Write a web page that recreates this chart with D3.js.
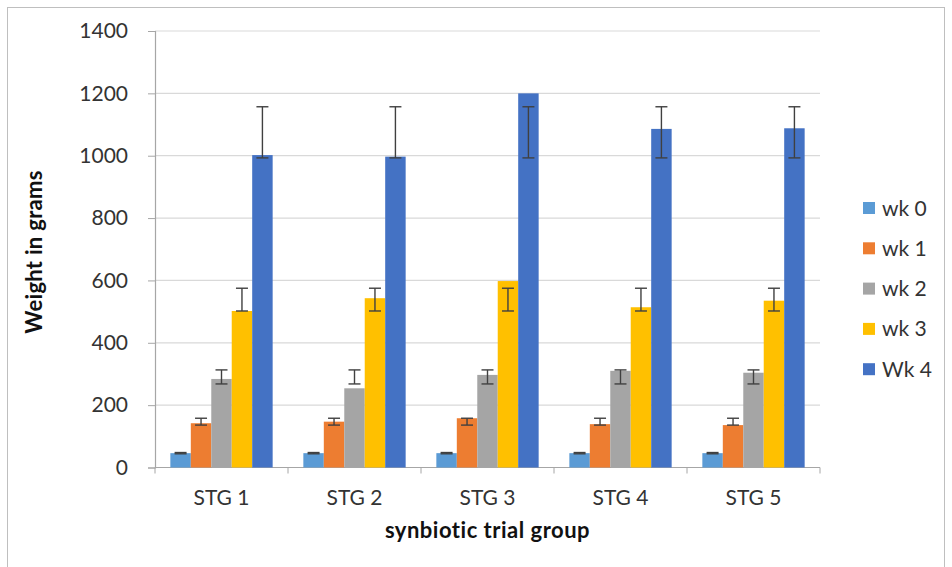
<!DOCTYPE html>
<html><head><meta charset="utf-8">
<script src="https://cdn.jsdelivr.net/npm/d3@7"></script>
<style>body{margin:0;background:#fff;}svg{display:block;}</style>
</head><body>
<svg id="chart" width="952" height="567"></svg>
<script>
const categories = ["STG 1","STG 2","STG 3","STG 4","STG 5"];
const seriesNames = ["wk 0","wk 1","wk 2","wk 3","Wk 4"];
const seriesColors = ["#5B9BD5","#ED7D31","#A5A5A5","#FFC000","#4472C4"];
const wk0 = [46, 46, 46, 46, 46];
const wk1 = [142, 147, 158, 139, 136];
const wk2 = [284, 254, 297, 310, 304];
const wk3 = [502, 543, 598, 514, 535];
const wk4 = [1002, 997, 1200, 1086, 1088];
// error bar low / high ends per series (same in every group in the picture)
const errLow  = [44, 136, 268, 502, 993];
const errHigh = [48, 158, 313, 575, 1157];
const yTicks = [0,200,400,600,800,1000,1200,1400];

const values = [wk0, wk1, wk2, wk3, wk4];
const FONT = "Lato, 'Open Sans', sans-serif";
const svg = d3.select("#chart");
const x0 = 155, x1 = 820, yTop = 31, yBot = 467.5;

// frame
svg.append("rect").attr("x",7.5).attr("y",7.5).attr("width",937).attr("height",570)
  .attr("fill","none").attr("stroke","#bfbfbf").attr("stroke-width",1);

const x = d3.scaleBand().domain(categories).range([x0,x1]).paddingInner(0).paddingOuter(0);
const y = d3.scaleLinear().domain([0,1400]).range([yBot,yTop]);
const bw = x.bandwidth()/6.5;
const xs = d3.scaleBand().domain(seriesNames).range([0.75*bw, x.bandwidth()-0.75*bw]).padding(0);

// gridlines
svg.append("g").selectAll("line").data(yTicks.filter(d=>d>0)).join("line")
  .attr("x1",x0).attr("x2",x1).attr("y1",d=>y(d)).attr("y2",d=>y(d))
  .attr("stroke","#d9d9d9").attr("stroke-width",1.2);

// y axis
const yAxis = svg.append("g").attr("transform",`translate(${x0},0)`)
  .call(d3.axisLeft(y).tickValues(yTicks).tickSize(7).tickPadding(20).tickFormat(d3.format("d")));
yAxis.select(".domain").attr("stroke","#a6a6a6").attr("stroke-width",1.2);
yAxis.selectAll(".tick line").attr("stroke","#a6a6a6");
yAxis.selectAll("text").attr("font-family",FONT).attr("font-size",21)
  .attr("fill","#333");

// x axis
const xAxisG = svg.append("g").attr("transform",`translate(0,${yBot})`);
xAxisG.append("line").attr("x1",x0).attr("x2",x1).attr("stroke","#a6a6a6").attr("stroke-width",1.2);
const bounds = categories.map(c=>x(c)).concat([x1]);
xAxisG.selectAll("line.tk").data(bounds).join("line").attr("class","tk")
  .attr("x1",d=>d).attr("x2",d=>d).attr("y1",0).attr("y2",6).attr("stroke","#a6a6a6");
xAxisG.selectAll("text").data(categories).join("text")
  .attr("x",d=>x(d)+x.bandwidth()/2).attr("y",37).attr("text-anchor","middle")
  .attr("font-family",FONT).attr("font-size",21).attr("fill","#333")
  .text(d=>d);

// bars
const data = [];
categories.forEach((c,ci)=>seriesNames.forEach((s,si)=>data.push({c,s,si,v:values[si][ci]})));
svg.append("g").selectAll("rect").data(data).join("rect")
  .attr("x",d=>x(d.c)+xs(d.s)).attr("width",xs.bandwidth())
  .attr("y",d=>y(d.v)).attr("height",d=>yBot-y(d.v))
  .attr("fill",d=>seriesColors[d.si]);

// error bars
const eg = svg.append("g").attr("stroke","#404040").attr("stroke-width",1.4);
data.forEach(d=>{
  const cx = x(d.c)+xs(d.s)+xs.bandwidth()/2;
  const lo = y(errLow[d.si]), hi = y(errHigh[d.si]);
  eg.append("line").attr("x1",cx).attr("x2",cx).attr("y1",lo).attr("y2",hi);
  eg.append("line").attr("x1",cx-6).attr("x2",cx+6).attr("y1",lo).attr("y2",lo);
  eg.append("line").attr("x1",cx-6).attr("x2",cx+6).attr("y1",hi).attr("y2",hi);
});

// axis titles
svg.append("text").attr("x",(x0+x1)/2).attr("y",538).attr("text-anchor","middle")
  .attr("font-family",FONT).attr("font-weight","bold").attr("font-size",22)
  .attr("letter-spacing",0.5).attr("fill","#111").text("synbiotic trial group");
svg.append("text").attr("transform","translate(42,252) rotate(-90)").attr("text-anchor","middle")
  .attr("font-family",FONT).attr("font-weight","bold").attr("font-size",22)
  .attr("letter-spacing",0.3).attr("fill","#111").text("Weight in grams");

// legend
const lg = svg.append("g").selectAll("g").data(seriesNames).join("g")
  .attr("transform",(d,i)=>`translate(863,${208+i*40.3})`);
lg.append("rect").attr("x",0).attr("y",-6).attr("width",12).attr("height",12)
  .attr("fill",(d,i)=>seriesColors[i]);
lg.append("text").attr("x",19).attr("y",7.5)
  .attr("font-family",FONT).attr("font-size",21).attr("fill","#333")
  .text(d=>d);
</script>
</body></html>
